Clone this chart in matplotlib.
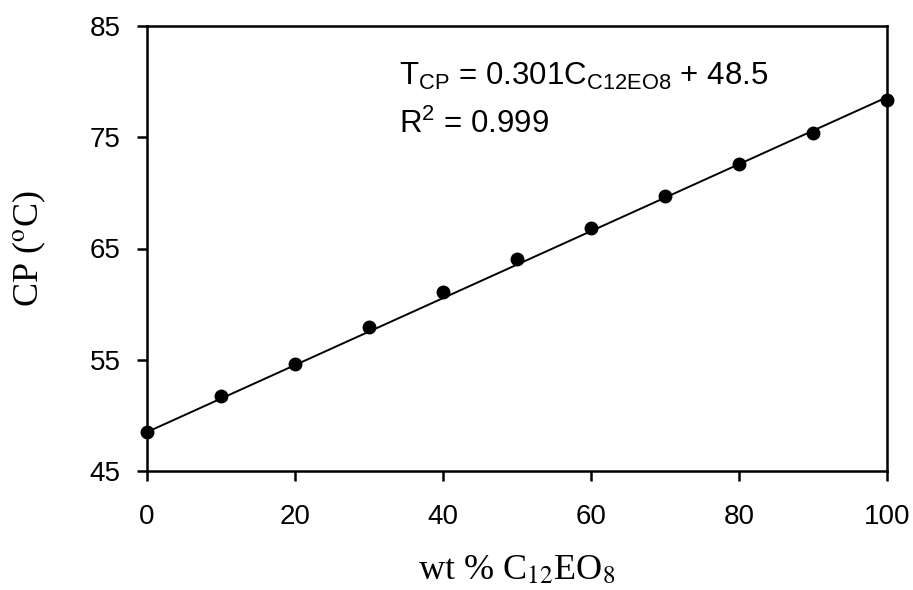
import numpy as np
import matplotlib
matplotlib.use("Agg")
import matplotlib.pyplot as plt

plt.rcParams['mathtext.fontset'] = 'custom'
plt.rcParams['mathtext.rm'] = 'Liberation Sans'
plt.rcParams['mathtext.it'] = 'Liberation Sans'

# data
wt_pct = [0, 10, 20, 30, 40, 50, 60, 70, 80, 90, 100]
cp_vals = [48.5, 51.7, 54.65, 57.9, 61.05, 64.05, 66.85, 69.7, 72.6, 75.4, 78.35]
slope = 0.301
intercept = 48.5
xticks = [0, 20, 40, 60, 80, 100]
yticks = [45, 55, 65, 75, 85]

fig = plt.figure(figsize=(9.13, 5.90), dpi=100)
ax = fig.add_axes([147/913, 1-471/590, (887-147)/913, (471-26)/590])

xfit = np.array([min(wt_pct), max(wt_pct)])
ax.plot(xfit, slope*xfit + intercept, color='black', lw=1.4, zorder=2)
ax.plot(wt_pct, cp_vals, 'o', color='black', ms=9, zorder=3, clip_on=False)

ax.set_xlim(0, 100)
ax.set_ylim(45, 85)
ax.set_xticks(xticks)
ax.set_yticks(yticks)
for s in ax.spines.values():
    s.set_linewidth(1.8)
ax.tick_params(direction='out', length=7, width=1.8, labelsize=20)
ax.tick_params(axis='y', pad=12)
ax.tick_params(axis='x', pad=17)
for lab in ax.get_xticklabels() + ax.get_yticklabels():
    lab.set_family('Liberation Sans')

ax.set_xlabel('wt % C$_{12}$EO$_{8}$', family='Liberation Serif', math_fontfamily='stix',
              fontsize=26, labelpad=17)
ax.set_ylabel('CP ($^{\\rm o}$C)', family='Liberation Serif', math_fontfamily='stix',
              fontsize=26, labelpad=30)

ax.text(0.341, 0.867, 'T$_{\\mathrm{CP}}$ = 0.301C$_{\\mathrm{C12EO8}}$ + 48.5',
        transform=ax.transAxes, fontsize=22.5, family='Liberation Sans', ha='left', va='baseline')
ax.text(0.341, 0.759, 'R$^{2}$ = 0.999',
        transform=ax.transAxes, fontsize=22.5, family='Liberation Sans', ha='left', va='baseline')

fig.savefig('out.png', dpi=100)
